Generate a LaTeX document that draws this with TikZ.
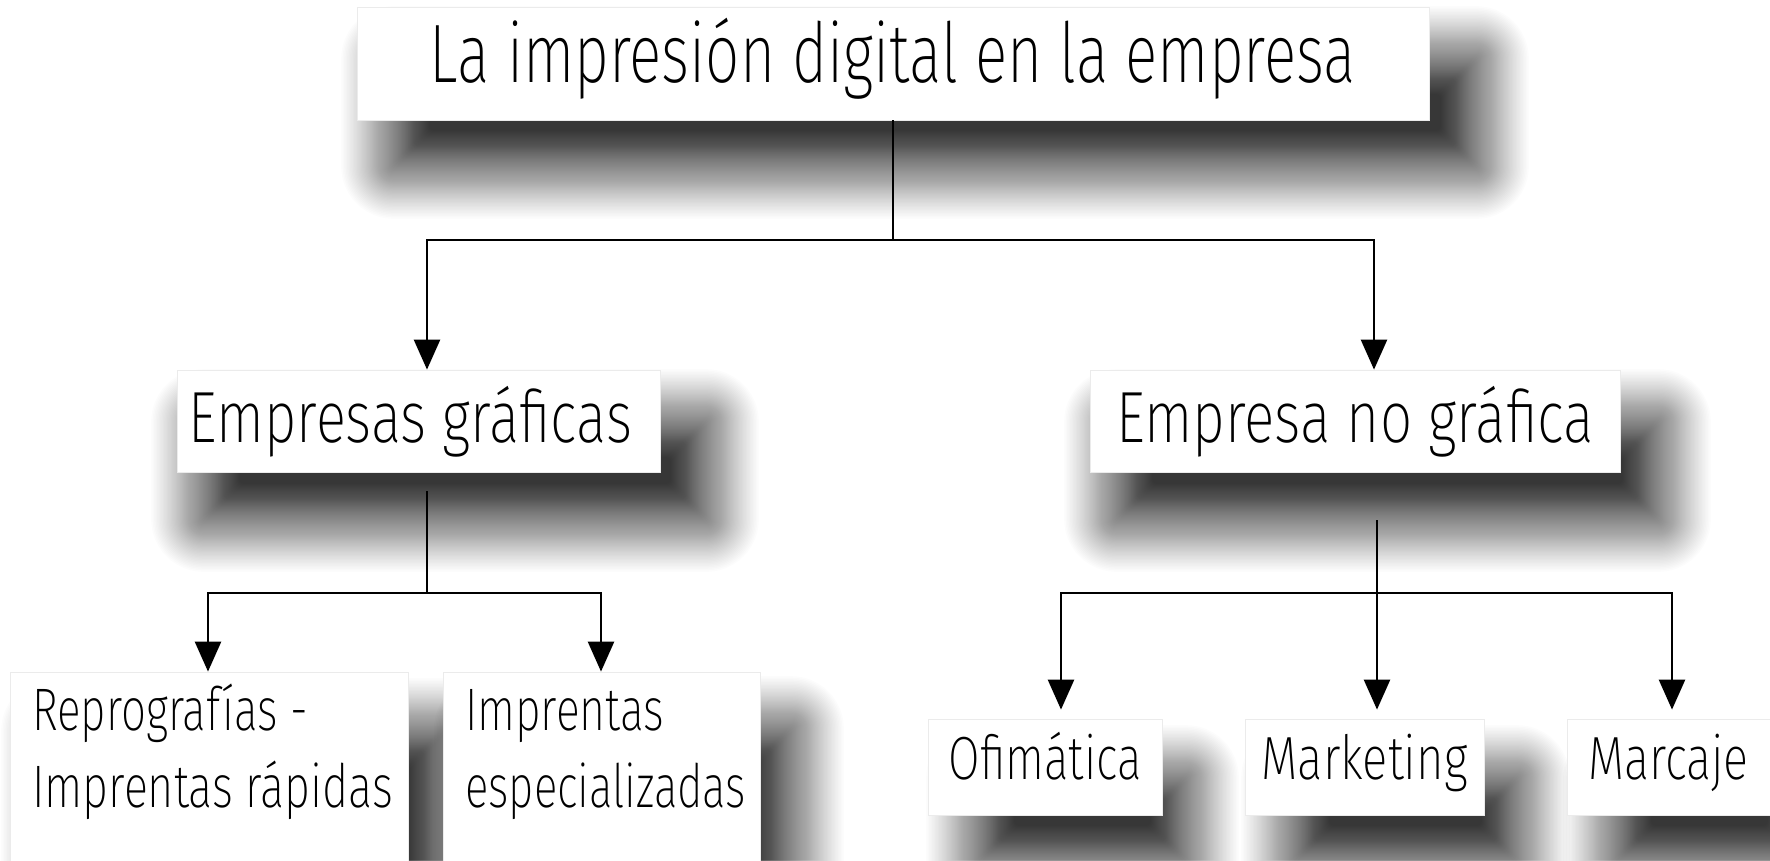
\documentclass[tikz,border=0pt]{standalone}
\usepackage{fontspec}
\IfFontExistsTF{Fira Sans ExtraLight}
  {\setmainfont{Fira Sans ExtraLight}}
  {\setmainfont{Fira Sans Light}}
\usetikzlibrary{arrows.meta,backgrounds,calc}
\newcommand\fitw[2]{\resizebox{#1}{\height}{#2}}
\tikzset{
  box/.style={rectangle, fill=white, draw=black!8, line width=0.8pt, inner sep=0pt},
  ln/.style={line width=2.6pt, black},
  arr/.style={ln, -{Triangle[width=26pt,length=30pt]}},
}
% soft drop shadow (linear ramp from +50pt to -40pt): #1 node; edges shifted
% from the node's edges by #2 (left), #3 (top, downwards), #4 (right), #5 (bottom, downwards)
\newcommand\dropshadow[5]{%
  \foreach \i [evaluate=\i as \e using {50-128.4*(1-0.988^\i)},
               evaluate=\i as \rc using {max(50-128.4*(1-0.988^\i),0)+4}] in {1,...,100}{%
    \fill[black, opacity=0.012, rounded corners=\rc pt]
      let \p1=(#1.north west), \p2=(#1.south east) in
      ({\x1+#2pt-(\e)*1pt},{\y1-#3pt+(\e)*1pt}) rectangle
      ({\x2+#4pt+(\e)*1pt},{\y2-#5pt-(\e)*1pt});
  }}
\begin{document}
\begin{tikzpicture}[x=1pt,y=-1pt]
\useasboundingbox (0,0) rectangle (1770,860);
% boxes
\node[box, minimum width=1072pt, minimum height=113pt, text height=57pt, text depth=20pt,
  font=\fontsize{83}{90}\selectfont] (top) at (893,63.5)
  {\fitw{926pt}{La impresión digital en la empresa}};
\node[box, minimum width=483pt, minimum height=102pt, text height=50pt, text depth=8pt,
  font=\fontsize{72.5}{80}\selectfont] (eg) at (418.5,421)
  {\fitw{443pt}{Empresas gráficas}\hspace*{16pt}};
\node[box, minimum width=530pt, minimum height=102pt, text height=50pt, text depth=8pt,
  font=\fontsize{72.5}{80}\selectfont] (eng) at (1355,421)
  {\fitw{478pt}{Empresa no gráfica}};
\node[box, minimum width=398pt, minimum height=208pt] (rep) at (209,776) {};
\node[box, minimum width=317pt, minimum height=208pt] (imp) at (601.5,776) {};
\node[box, minimum width=234pt, minimum height=96pt, text height=42pt, text depth=18pt,
  font=\fontsize{61}{70}\selectfont] (ofi) at (1045,767) {\fitw{193pt}{Ofimática}};
\node[box, minimum width=239pt, minimum height=96pt, text height=42pt, text depth=18pt,
  font=\fontsize{61}{70}\selectfont] (mkt) at (1364.5,767) {\fitw{206pt}{Marketing}};
\node[box, minimum width=203pt, minimum height=96pt, text height=42pt, text depth=18pt,
  font=\fontsize{61}{70}\selectfont] (mcj) at (1668.5,767) {\fitw{160pt}{Marcaje}};
% texts of the tall boxes
\node[anchor=north west, inner sep=0pt, align=left, font=\fontsize{60}{77}\selectfont]
  (reptxt) at (32,672)
  {\rule{0pt}{58pt}\fitw{276pt}{Reprografías -}\\\fitw{361pt}{Imprentas rápidas}};
\node[anchor=north west, inner sep=0pt, align=left, font=\fontsize{60}{77}\selectfont]
  (imptxt) at (465,672)
  {\rule{0pt}{58pt}\fitw{199pt}{Imprentas}\\\fitw{281pt}{especializadas}};
% junctions
\coordinate (j1) at (893,240);
\coordinate (egout) at (427,491);
\coordinate (j2) at (427,593);
\coordinate (engout) at (1377,520);
\coordinate (j3) at (1377,593);
% connectors
\draw[ln] (top.south) -- (j1);
\draw[arr] (j1) -| ([xshift=8.5pt]eg.north);
\draw[arr] (j1) -| ([xshift=19pt]eng.north);
\draw[ln] (egout) -- (j2);
\draw[arr] (j2) -| ([xshift=-1pt]rep.north);
\draw[arr] (j2) -| ([xshift=-0.5pt]imp.north);
\draw[arr] (engout) -- ([xshift=12.5pt,yshift=9pt]mkt.north);
\draw[arr] (j3) -| ([xshift=16pt,yshift=9pt]ofi.north);
\draw[arr] (j3) -| ([xshift=3.5pt,yshift=9pt]mcj.north);
% shadows
\begin{scope}[on background layer]
\fill[white] (0,0) rectangle (1770,860);
\dropshadow{top}{33}{48}{51}{50}
\dropshadow{eg}{23}{48}{50}{51}
\dropshadow{eng}{23}{48}{42}{51}
\dropshadow{rep}{40}{55}{40}{50}
\dropshadow{imp}{40}{53}{35}{50}
\dropshadow{ofi}{47}{55}{28}{50}
\dropshadow{mkt}{45}{55}{37}{50}
\dropshadow{mcj}{45}{55}{37}{50}
\end{scope}
\end{tikzpicture}
\end{document}
